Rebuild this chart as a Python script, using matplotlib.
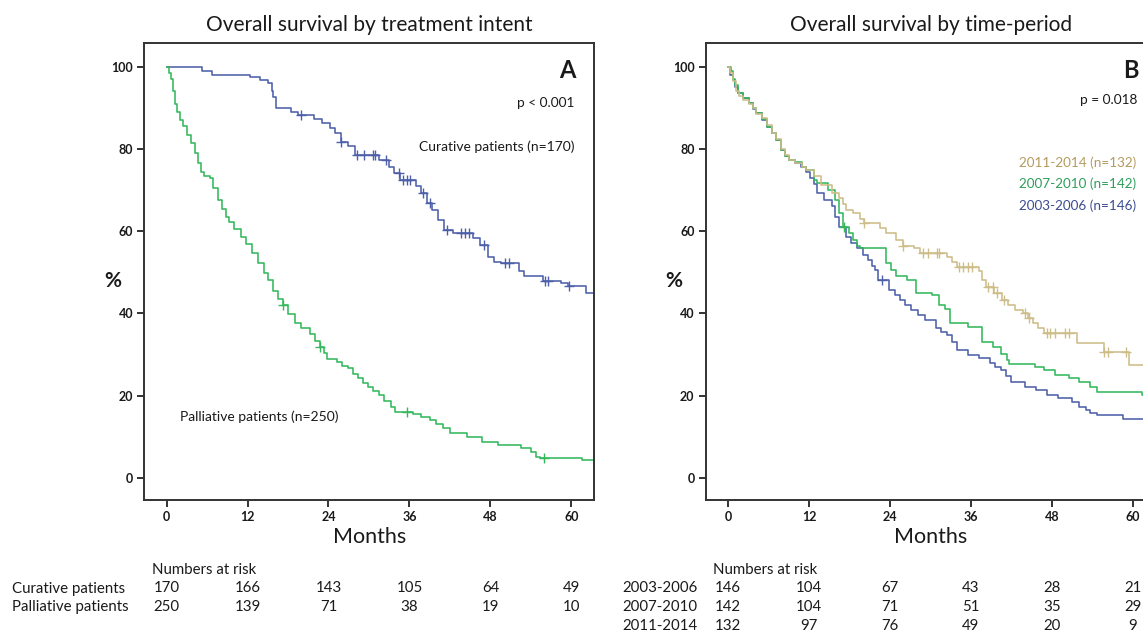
import matplotlib
matplotlib.use("Agg")
import matplotlib.pyplot as plt
import matplotlib.transforms as mtransforms
import numpy as np

plt.rcParams['font.family'] = ['Lato', 'DejaVu Sans']

# ---- data (step times in months, survival in %) ----
cur_t = [0, 5.2, 6.7, 12.4, 13.8, 15.0, 15.6, 15.8, 16.2, 18.4, 19.5, 21.8, 23.0, 24.2,
         24.9, 25.8, 26.9, 28.0, 31.5, 32.9, 33.7, 34.6, 36.9, 37.7, 38.6, 39.4, 40.3,
         41.1, 42.5, 45.4, 46.5, 47.7, 48.5, 49.5, 52.2, 53.0, 55.8, 58.5, 59.5, 62.2]
cur_s = [100, 99.0, 98.0, 97.4, 96.8, 96.0, 94.0, 92.7, 89.9, 89.0, 88.3, 87.4, 86.2, 85.0,
         83.8, 81.8, 80.6, 78.5, 77.3, 75.7, 74.1, 72.5, 70.9, 69.2, 66.8, 65.2, 62.8,
         60.3, 59.5, 58.3, 56.7, 53.8, 52.6, 52.2, 50.2, 49.0, 47.8, 47.4, 46.6, 44.9]
cur_cens = [20.0, 25.8, 28.3, 29.2, 30.6, 30.9, 32.5, 34.5, 35.0, 35.6, 36.1, 38.0, 39.0,
            41.5, 43.6, 44.2, 44.8, 47.0, 50.2, 50.7, 56.1, 56.5, 59.6]

pal_t = [0, 0.3, 0.6, 0.9, 1.2, 1.6, 2.0, 2.4, 3.0, 3.6, 4.2, 4.7, 5.1, 5.6, 6.4, 6.9, 7.6,
         8.2, 8.8, 9.3, 10.0, 11.0, 11.8, 12.7, 13.5, 14.4, 15.0, 15.8, 16.5, 17.2, 18.0,
         19.0, 20.0, 21.3, 22.0, 22.7, 23.3, 23.8, 25.2, 26.0, 26.9, 27.6, 28.4, 29.1,
         29.8, 30.6, 31.5, 32.3, 33.2, 33.8, 36.5, 37.7, 39.0, 40.0, 41.0, 42.0, 44.6,
         46.8, 49.1, 52.5, 54.0, 54.8, 55.4, 61.6]
pal_s = [100, 98.5, 97, 94, 91, 89, 87, 85.5, 83.5, 81.4, 79, 76.5, 74.5, 73.5, 72.9, 70.5,
         67.6, 65.5, 63.5, 62.3, 60.5, 58.7, 56.8, 54.7, 52.3, 49.8, 48.1, 45.5, 43.5, 42.0,
         39.8, 37.6, 36.5, 35.1, 33.2, 31.9, 30.3, 29.0, 28.2, 27.2, 26.6, 25.3, 24.2, 23.1,
         22.1, 21.0, 20.1, 18.6, 17.3, 16.1, 15.4, 14.8, 14.0, 13.2, 12.0, 10.8, 10.0, 8.8,
         8.0, 7.2, 6.2, 5.1, 4.7, 4.3]
pal_cens = [17.2, 22.7, 35.7, 55.9]

p03_t = [0, 0.3, 0.7, 1.1, 1.5, 2.2, 3.1, 3.7, 4.2, 5.0, 5.8, 6.5, 7.1, 7.9, 8.5, 9.0, 10.0,
         10.8, 11.6, 12.2, 12.7, 13.2, 14.3, 15.4, 15.9, 16.4, 17.5, 18.3, 19.1, 20.0, 20.7,
         21.3, 21.8, 22.3, 23.9, 24.7, 25.5, 26.3, 27.1, 28.2, 29.2, 30.8, 31.6, 32.4, 33.2,
         34.0, 35.6, 37.2, 38.8, 39.6, 40.4, 41.2, 42.0, 44.1, 45.7, 47.3, 48.9, 51.0, 52.1,
         53.0, 53.7, 54.7, 58.5]
p03_s = [100, 98, 96.8, 95, 93.5, 92.3, 91.1, 89.8, 88.7, 87, 85.4, 83.8, 82.2, 79.8, 78.3,
         77.3, 76.5, 75.5, 74.5, 73.0, 71.5, 69.2, 67.6, 66.0, 63.5, 61.1, 58.7, 57.2, 55.9,
         54.3, 53.0, 51.6, 50.6, 48.2, 45.7, 44.4, 43.3, 42.0, 40.8, 39.5, 38.4, 36.4, 35.5,
         34.8, 33.0, 31.1, 29.9, 29.1, 27.9, 27.0, 26.2, 24.8, 23.4, 22.2, 21.4, 20.2, 19.3,
         18.5, 17.3, 16.4, 15.7, 15.2, 14.4]
p03_cens = [22.8]

p07_t = [0, 0.4, 0.7, 1.1, 1.5, 2.2, 3.1, 3.7, 4.2, 5.0, 5.8, 6.5, 7.1, 7.9, 8.5, 9.0, 10.0,
         11.0, 11.6, 12.7, 13.2, 14.8, 15.9, 16.5, 17.0, 18.0, 18.6, 19.1, 19.6, 23.4, 24.2,
         24.9, 26.5, 27.9, 30.3, 31.3, 32.1, 32.9, 35.6, 37.7, 39.3, 40.5, 41.4, 41.7, 45.5,
         46.8, 48.4, 50.5, 52.1, 53.7, 54.7, 61.4]
p07_s = [100, 99, 97, 95.5, 93.5, 92.5, 91.1, 90, 88.7, 87.2, 85.4, 83.8, 82.2, 79.8, 78.3,
         77.3, 76.8, 75.7, 74.9, 72.5, 71.7, 70.0, 67.6, 64.5, 61.1, 59.5, 57.8, 56.3, 55.9,
         52.2, 50.5, 49.0, 48.1, 44.9, 44.5, 42.0, 41.0, 37.6, 36.7, 33.1, 31.9, 30.0, 28.6,
         27.8, 26.9, 26.2, 25.0, 24.2, 23.4, 22.2, 20.9, 20.1]
p07_cens = [17.2]

p11_t = [0, 0.3, 0.7, 1.2, 1.6, 2.3, 3.1, 3.7, 4.2, 5.0, 5.8, 6.5, 7.1, 7.9, 8.5, 9.0, 10.0,
         11.0, 11.6, 12.7, 13.8, 15.4, 16.4, 17.0, 17.5, 18.6, 19.5, 20.2, 22.5, 23.4, 24.9,
         26.0, 27.6, 28.4, 32.4, 33.2, 34.0, 37.2, 37.6, 38.2, 39.5, 40.6, 41.5, 42.5, 43.8,
         44.5, 45.2, 46.0, 46.8, 51.8, 55.8, 59.5]
p11_s = [100, 98.5, 96.5, 94, 93, 92, 91, 90, 88.5, 87.5, 85.8, 84, 82.5, 80, 78.5, 77.3,
         76.5, 75.5, 74.9, 73.3, 71.3, 69.2, 68.0, 66.5, 65.2, 64.4, 63.0, 61.9, 60.7, 59.5,
         57.9, 56.3, 55.9, 54.7, 53.8, 52.6, 51.4, 50.2, 48.0, 46.5, 45.0, 43.3, 42.0, 40.8,
         40.0, 38.8, 37.6, 36.4, 35.2, 32.7, 30.7, 27.5]
p11_cens = [20.2, 26.0, 28.9, 29.7, 31.0, 31.3, 34.2, 34.8, 35.6, 36.1, 38.5, 39.3, 39.9,
            40.9, 44.1, 44.6, 47.3, 47.8, 48.4, 50.0, 50.5, 55.8, 56.4, 59.0]

risk_times = [0, 12, 24, 36, 48, 60]
risk_curative = [170, 166, 143, 105, 64, 49]
risk_palliative = [250, 139, 71, 38, 19, 10]
risk_2003 = [146, 104, 67, 43, 28, 21]
risk_2007 = [142, 104, 71, 51, 35, 29]
risk_2011 = [132, 97, 76, 49, 20, 9]

BLUE = '#4d5fa9'
GREEN = '#33b85b'
TAN = '#cdbd88'
TXT = '#1a1a1a'

W, H = 1143, 631
fig = plt.figure(figsize=(W / 100, H / 100), dpi=100)
axA = fig.add_axes([144.3 / W, 1 - 500 / H, 450 / W, 456.7 / H])
axB = fig.add_axes([705.7 / W, 1 - 500 / H, 450 / W, 456.7 / H])


def km(ax, t, s, cens, color, t_end=63.4):
    x = list(t) + [t_end]
    y = list(s) + [s[-1]]
    ax.step(x, y, where='post', color=color, lw=1.15)
    t_arr = np.array(t)
    cy = [s[np.searchsorted(t_arr, c, side='right') - 1] for c in cens]
    ax.plot(cens, cy, ls='none', marker='+', ms=6.5, mew=1.0, color=color)


def style(ax, title):
    ax.set_xlim(-3.3, 63.4)
    ax.set_ylim(-5.4, 105.7)
    ax.set_xticks(risk_times)
    ax.set_yticks([0, 20, 40, 60, 80, 100])
    for sp in ax.spines.values():
        sp.set_linewidth(1.4)
        sp.set_color('#333333')
    ax.tick_params(direction='out', length=5, width=1.4, color='#333333',
                   labelsize=9, labelcolor=TXT, pad=3)
    for lab in ax.get_xticklabels() + ax.get_yticklabels():
        lab.set_fontweight('bold')
    ax.text(0.5, 1.040, title, transform=ax.transAxes, ha='center', va='center',
            fontsize=15, color=TXT)
    ax.text(0.5, -0.081, 'Months', transform=ax.transAxes, ha='center', va='center',
            fontsize=15.5, color=TXT)
    ax.text(-0.07, 0.48, '%', transform=ax.transAxes, ha='center', va='center',
            fontsize=15, fontweight='bold', color=TXT)


# ---- panel A ----
km(axA, cur_t, cur_s, cur_cens, BLUE)
km(axA, pal_t, pal_s, pal_cens, GREEN)
style(axA, 'Overall survival by treatment intent')
axA.text(60.6, 99, 'A', ha='right', va='center', fontsize=17, fontweight='bold', color=TXT)
axA.text(60.4, 91.2, 'p < 0.001', ha='right', va='center', fontsize=9.8, color=TXT)
axA.text(60.4, 80.5, 'Curative patients (n=170)', ha='right', va='center', fontsize=10,
         color=TXT)
axA.text(2.0, 14.8, 'Palliative patients (n=250)', ha='left', va='center', fontsize=10,
         color=TXT)

# ---- panel B ----
km(axB, p03_t, p03_s, p03_cens, BLUE)
km(axB, p07_t, p07_s, p07_cens, GREEN)
km(axB, p11_t, p11_s, p11_cens, TAN)
style(axB, 'Overall survival by time-period')
axB.text(60.8, 99, 'B', ha='right', va='center', fontsize=17, fontweight='bold', color=TXT)
axB.text(60.7, 91.9, 'p = 0.018', ha='right', va='center', fontsize=9.8, color=TXT)
axB.text(60.5, 76.6, '2011-2014 (n=132)', ha='right', va='center', fontsize=9.7,
         color='#b49a5e')
axB.text(60.5, 71.6, '2007-2010 (n=142)', ha='right', va='center', fontsize=9.7,
         color='#2e9e5b')
axB.text(60.5, 66.2, '2003-2006 (n=146)', ha='right', va='center', fontsize=9.7,
         color='#3c4c92')

# ---- numbers at risk ----
def risk_table(ax, label_x, rows, header_y):
    tr = mtransforms.blended_transform_factory(ax.transData, fig.transFigure)
    x0 = ax.transData.transform((0, 0))[0] - 15
    fig.text(x0 / W, 1 - header_y / H, 'Numbers at risk', ha='left', va='center',
             fontsize=10.8, color=TXT)
    for i, (name, vals) in enumerate(rows):
        y = 1 - (header_y + 18.5 * (i + 1)) / H
        fig.text(label_x / W, y, name, ha='left', va='center', fontsize=10.8, color=TXT)
        for t, v in zip(risk_times, vals):
            ax.text(t, y, str(v), transform=tr, ha='center', va='center', fontsize=10.8,
                    color=TXT, clip_on=False)


fig.canvas.draw()
risk_table(axA, 12, [('Curative patients', risk_curative),
                     ('Palliative patients', risk_palliative)], 570)
risk_table(axB, 622, [('2003-2006', risk_2003), ('2007-2010', risk_2007),
                      ('2011-2014', risk_2011)], 570)

fig.savefig('out.png', dpi=100)
